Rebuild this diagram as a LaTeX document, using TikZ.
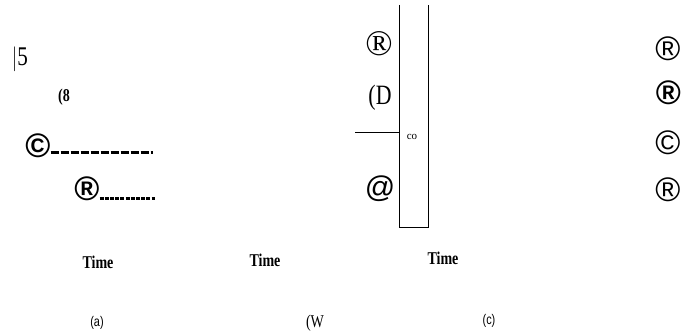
\documentclass[tikz,border=0pt]{standalone}
\usepackage{fontspec}
\usepackage{graphicx}
\setmainfont{Liberation Serif}
\newfontfamily\sansfont{Liberation Sans}
\usepackage{tikz}
\usetikzlibrary{positioning}
\newcommand{\narrow}[1]{\scalebox{0.78}[1]{#1}}

\begin{document}
\begin{tikzpicture}[x=1pt, y=-1pt, every node/.style={inner sep=0pt, outer sep=0pt}]
    \tikzstyle{sym}=[font=\sansfont\fontsize{34}{34}\selectfont]
    \tikzstyle{boldsym}=[font=\sansfont\fontsize{34}{34}\selectfont\bfseries]
    \tikzstyle{serifsym}=[font=\fontsize{36}{36}\selectfont]
    \tikzstyle{timelbl}=[font=\fontsize{18}{18}\selectfont\bfseries]
    \tikzstyle{sublbl}=[font=\sansfont\fontsize{14}{14}\selectfont]
    \useasboundingbox (0,0) rectangle (681,334);
    % panel (a)
    \node[font=\fontsize{27}{27}\selectfont, anchor=west] (a5) at (12,59) {\narrow{$|$5}};
    \node[font=\fontsize{18}{18}\selectfont\bfseries] (a8) at (64,97) {\narrow{(8}};
    \node[boldsym] (ac) at (38,146) {©};
    \node[boldsym] (ar) at (87,189) {®};
    \coordinate (acend) at (153,153);
    \coordinate (arend) at (155,199);
    \draw[line width=3pt, dash pattern=on 8pt off 2pt] (ac.east |- acend) -- (acend);
    \draw[line width=3pt, dash pattern=on 4pt off 1.2pt] (ar.east |- arend) -- (arend);
    \node[timelbl] (ta) at (98,262) {\narrow{Time}};
    \node[sublbl] (la) at (97,323) {\narrow{(a)}};
    % panel (b)
    \coordinate (btl) at (399,5);
    \coordinate (btr) at (428,5);
    \coordinate (bbl) at (399,227);
    \coordinate (bbr) at (428,227);
    \coordinate (bh) at (355,132);
    \draw (btl) -- (bbl) -- (bbr) -- (btr);
    \draw (bh) -- (bh -| bbl);
    \node[font=\fontsize{11}{11}\selectfont] (binf) at (412,137) {co};
    \node[serifsym] (br) at (379,44) {®};
    \node[font=\fontsize{28}{28}\selectfont] (bd) at (380,98) {\narrow{(D}};
    \node[sym, font=\sansfont\fontsize{30}{30}\selectfont] (bat) at (380,189) {@};
    \node[timelbl] (tb) at (265,260) {\narrow{Time}};
    \node[font=\fontsize{18}{18}\selectfont] (lb) at (315,323) {\narrow{(W}};
    % panel (c)
    \node[timelbl] (tc) at (443,258) {\narrow{Time}};
    \node[sublbl] (lc) at (489,321) {\narrow{(c)}};
    \node[sym] (cr1) at (668,49) {®};
    \node[sym, font=\sansfont\fontsize{34}{34}\selectfont\bfseries\itshape] (cr2) at (668,93) {®};
    \node[sym] (cc) at (668,143) {©};
    \node[sym] (cr3) at (668,190) {®};
\end{tikzpicture}
\end{document}
